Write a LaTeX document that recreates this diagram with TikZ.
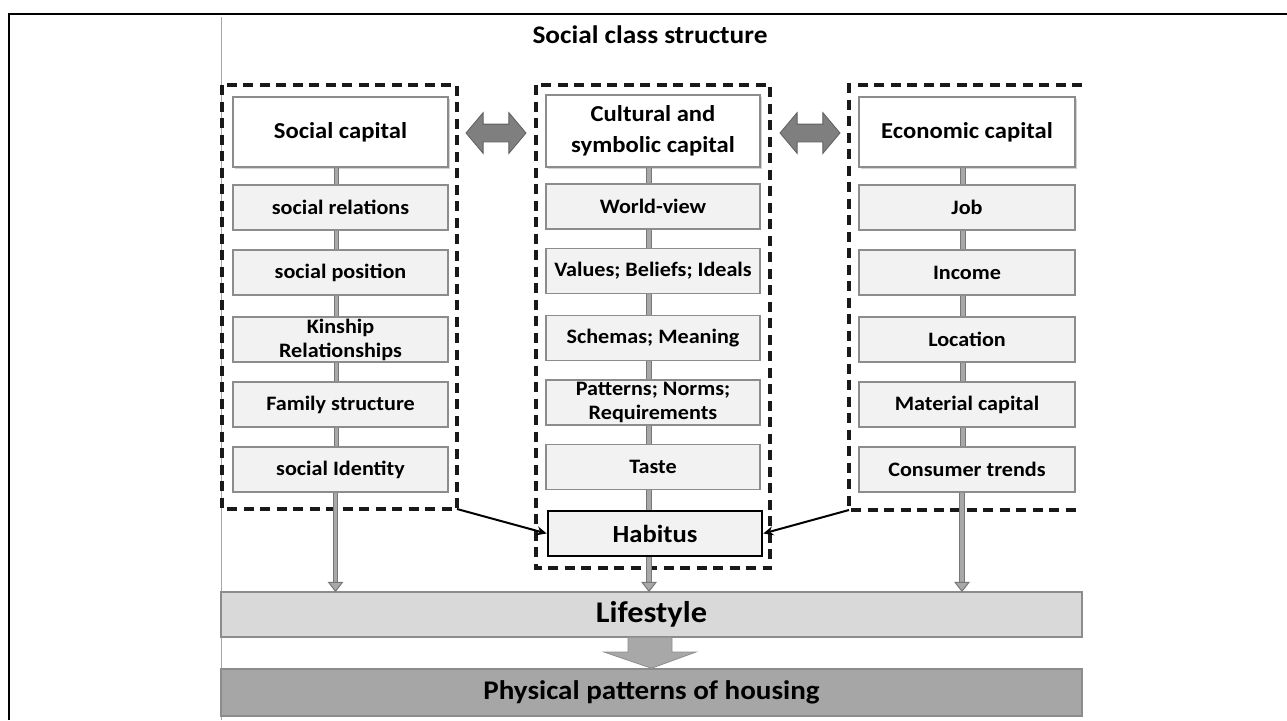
\documentclass[tikz,border=0pt]{standalone}
\usepackage{fontspec}
\setmainfont{Carlito}[FakeStretch=1.08]
\usetikzlibrary{arrows.meta,shadows,shapes.arrows}
\definecolor{itemfill}{HTML}{F2F2F2}
\definecolor{boxedge}{HTML}{8C8C8C}
\definecolor{barfill}{HTML}{A8A8A8}
\definecolor{baredge}{HTML}{777777}
\definecolor{lifefill}{HTML}{D9D9D9}
\definecolor{physfill}{HTML}{A6A6A6}
\definecolor{darrfill}{HTML}{7F7F7F}
\definecolor{darredge}{HTML}{606060}
\begin{document}
\begin{tikzpicture}[x=1pt,y=-1pt,
  header/.style={draw=boxedge, line width=1.2pt, fill=white, minimum width=215pt, minimum height=70pt, inner sep=1pt, align=center, font=\bfseries\fontsize{22.8}{31}\selectfont, drop shadow={shadow xshift=2pt, shadow yshift=-2pt, opacity=0.35, fill=gray}},
  item/.style={draw=boxedge, line width=1.2pt, fill=itemfill, minimum width=215pt, minimum height=45pt, inner sep=0pt, align=center, font=\bfseries\fontsize{20.5}{24}\selectfont},
  habst/.style={draw=black, line width=2.6pt, fill=itemfill, minimum width=214pt, minimum height=45pt, inner sep=0pt, font=\bfseries\fontsize{24.6}{28}\selectfont},
  bandst/.style={draw=boxedge, line width=1.5pt, minimum width=861pt, inner sep=0pt},
  dashbox/.style={draw=black!90, line width=3.2pt, dash pattern=on 10pt off 6.5pt},
  bar/.style={draw=baredge, line width=1pt, double=barfill, double distance=3.5pt},
  tipst/.style={draw=baredge, line width=1pt, fill=barfill},
  darr/.style={double arrow, draw=darredge, fill=darrfill, line width=0.8pt, minimum height=60pt, minimum width=40pt, inner sep=8.5pt, double arrow head extend=11.5pt, double arrow tip angle=100},
  toarr/.style={draw=black, line width=2pt, -{Stealth[length=10pt,width=9pt]}},
  bigarr/.style={draw=boxedge, line width=0.8pt, fill=barfill}
]
\useasboundingbox (0,0) rectangle (1287,720);
% outer frame and picture edge
\draw[line width=2.4pt] (9,720) -- (9,14) -- (1287,14);
\draw[line width=0.8pt, draw=gray!70] (221,17) -- (221,720);

\node[anchor=base, font=\bfseries\fontsize{25.3}{28}\selectfont] (title) at (650,43) {Social class structure};

% dashed groups
\draw[dashbox] (222,85) rectangle (457,509);
\coordinate (lbc) at (457,509);
\draw[dashbox] (536,85) rectangle (770,568);
\draw[dashbox] (1082,85) -- (849,85) -- (849,510) -- (1082,510);
\coordinate (rbc) at (849,510);

% left column
\node[header] (lh) at (340.5,132) {Social capital};
\node[item] (l1) at (340.5,207.5) {social relations};
\node[item] (l2) at (340.5,272.5) {social position};
\node[item] (l3) at (340.5,339.5) {Kinship\\Relationships};
\node[item] (l4) at (340.5,404.5) {Family structure};
\node[item] (l5) at (340.5,469.5) {social Identity};

% middle column
\node[header, minimum height=72pt, minimum width=214pt] (mh) at (653,131) {Cultural and\\symbolic capital};
\node[item, minimum width=214pt] (m1) at (653,206.5) {World-view};
\node[item, minimum width=214pt] (m2) at (653,271) {Values; Beliefs; Ideals};
\node[item, minimum width=214pt] (m3) at (653,338) {Schemas; Meaning};
\node[item, minimum width=214pt] (m4) at (653,402.5) {Patterns; Norms;\\Requirements};
\node[item, minimum width=214pt] (m5) at (653,467) {Taste};
\node[habst] (hab) at (655,533.5) {Habitus};

% right column
\node[header, minimum width=216pt] (rh) at (967,132) {Economic capital};
\node[item, minimum width=216pt] (r1) at (967,207.5) {Job};
\node[item, minimum width=216pt] (r2) at (967,272.5) {Income};
\node[item, minimum width=216pt] (r3) at (967,339.5) {Location};
\node[item, minimum width=216pt] (r4) at (967,404.5) {Material capital};
\node[item, minimum width=216pt] (r5) at (967,469.5) {Consumer trends};

% bands
\node[bandst, fill=lifefill, minimum height=45pt, font=\bfseries\fontsize{30}{34}\selectfont] (life) at (651.5,614.5) {Lifestyle};
\node[bandst, fill=physfill, minimum height=47pt, font=\bfseries\fontsize{26.9}{30}\selectfont] (phys) at (651.5,692.5) {Physical patterns of housing};

% connector bars in columns
\foreach \a/\b in {lh/l1,l1/l2,l2/l3,l3/l4,l4/l5,mh/m1,m1/m2,m2/m3,m3/m4,m4/m5,m5/hab,rh/r1,r1/r2,r2/r3,r3/r4,r4/r5}{
  \path ([xshift=-4pt]\a.south) coordinate (bt);
  \draw[bar] (bt) -- (bt |- \b.north);
}

% down arrows into Lifestyle
\path ([xshift=-4pt]m5.south) coordinate (mx);
\path (hab.south -| mx) coordinate (ma0);
\path ([xshift=-5pt]l5.south) coordinate (la0);
\path ([xshift=-5pt]r5.south) coordinate (ra0);
\foreach \n in {la,ma,ra}{
  \path (\n0 |- life.north) coordinate (\n1);
  \draw[bar] (\n0) -- ([yshift=8pt]\n1);
  \draw[tipst] (\n1) -- ++(-7,-9) -- ++(14,0) -- cycle;
}

% double arrows between headers
\node[darr] (da1) at (496,133) {};
\node[darr] (da2) at (810,133) {};

% arrows into Habitus
\draw[toarr] (lbc) -- (hab.west);
\draw[toarr] (rbc) -- (hab.east);

% big arrow Lifestyle -> Physical patterns
\draw[bigarr] (628,637.5) -- (628,652) -- (604,652) -- (phys.north) -- (696,652) -- (672,652) -- (672,637.5);
\end{tikzpicture}
\end{document}
